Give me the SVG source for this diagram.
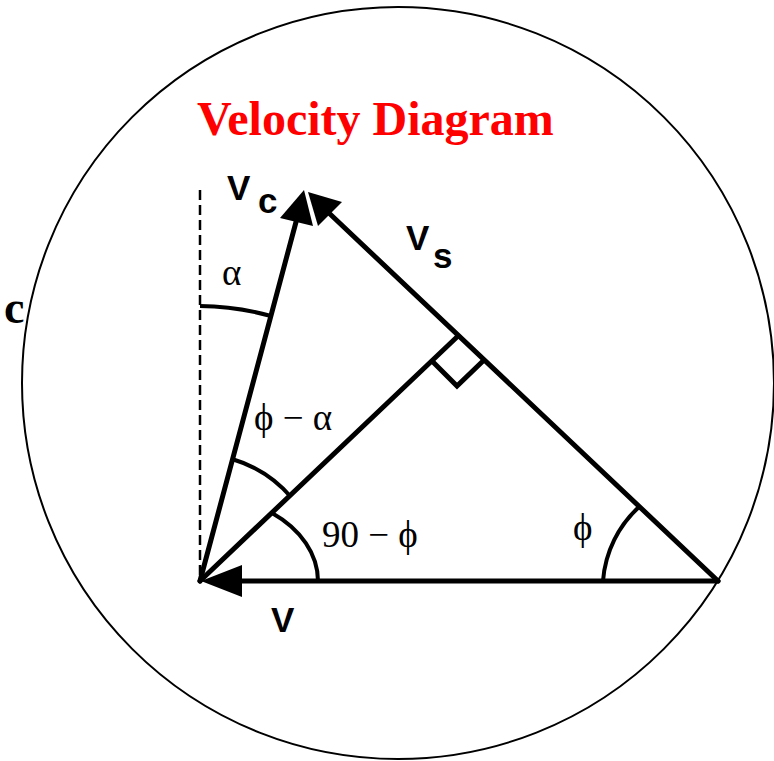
<svg xmlns="http://www.w3.org/2000/svg" width="774" height="761" viewBox="0 0 774 761">
<style>
.ln{stroke:#000;stroke-width:5;fill:none;stroke-linecap:round}
.arc{stroke:#000;stroke-width:4;fill:none}
.ah{fill:#000;stroke:none}
.lbl{font-family:"Liberation Sans",Arial,sans-serif;font-weight:bold;font-size:35px;fill:#000}
.gr{font-family:"Liberation Serif","Times New Roman",serif;font-size:37px;fill:#000}
.ser{font-family:"Liberation Serif","Times New Roman",serif;font-weight:bold}
</style>
<rect width="774" height="761" fill="#fff"/>
<g id="circle">
<circle cx="398" cy="383" r="376" fill="none" stroke="#000" stroke-width="2"/>
</g>
<text class="ser" x="197" y="135" font-size="48" fill="#ff0000">Velocity Diagram</text>
<text class="ser" x="4" y="323" font-size="46" fill="#000">c</text>
<g id="connectors">
<line x1="200" y1="190" x2="200" y2="575" stroke="#000" stroke-width="2.5" stroke-dasharray="10,5"/>
<line class="ln" x1="242" y1="581" x2="718" y2="581"/>
<line class="ln" x1="718" y1="581" x2="330" y2="214"/>
<line class="ln" x1="200" y1="581" x2="296" y2="222"/>
<line class="ln" x1="200" y1="581" x2="458" y2="336"/>
<polyline class="ln" points="433,362 457,386 483,361" stroke-width="4"/>
<polygon class="ah" points="201,581 242,565 242,597"/>
<polygon class="ah" points="304,190 280,218 313,226"/>
<polygon class="ah" points="308,192 342,202 318,226"/>
<path class="arc" d="M200 306 A275 275 0 0 1 271 316"/>
<path class="arc" d="M232 459 A125 125 0 0 1 291 497"/>
<path class="arc" d="M272 513 A118 86 0 0 1 318 581"/>
<path class="arc" d="M603 581 A112 112 0 0 1 640 506"/>
</g>
<g id="labels">
<text class="lbl" x="227" y="200">V</text>
<text class="lbl" x="258" y="213">c</text>
<text class="lbl" x="406" y="250">V</text>
<text class="lbl" x="433" y="268">s</text>
<text class="lbl" x="271" y="632">V</text>
<text class="gr" x="222" y="285" font-size="42">α</text>
<text class="gr" x="254" y="430">ϕ − α</text>
<text class="gr" x="322" y="547">90 − ϕ</text>
<text class="gr" x="573" y="540">ϕ</text>
</g>
</svg>
